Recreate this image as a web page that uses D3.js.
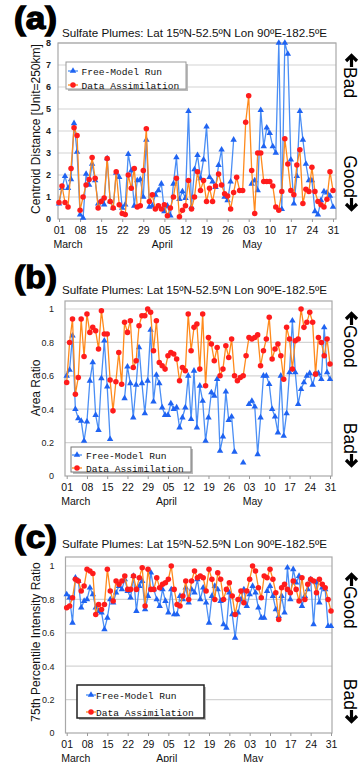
<!DOCTYPE html>
<html><head><meta charset="utf-8">
<script src="https://cdn.jsdelivr.net/npm/d3@7"></script>
<style>
body{margin:0;background:#fff}
svg{display:block;font-family:"Liberation Sans",Arial,sans-serif}
</style></head><body>
<script>
var W = 359, H = 762;

// dates: 1 March .. 31 May, one value per day
var start = new Date(2011, 2, 1);
var days = d3.range(92).map(function(i){ return d3.timeDay.offset(start, i); });
var tickDays = d3.range(0, 92, 7);
var yTicksA = [0,1,2,3,4,5,6,7,8];
var yTicksBC = [0,0.2,0.4,0.6,0.8,1];
var seriesNames = ["Free-Model Run", "Data Assimilation"];
var title = "Sulfate Plumes: Lat 15\u00baN-52.5\u00baN Lon 90\u00baE-182.5\u00baE";

// (a) centroid distance
var distFree = [0.7,1.4,1.95,1.4,1.8,4.35,3.05,0.2,0.05,2.05,
 1.55,2.5,1.75,0.7,0.8,0.65,2.75,0.8,0.5,2.1,
 1.9,0.5,0.65,2.95,2.2,0.6,1.75,1.8,1.0,3.6,
 0.55,0.6,1.1,1.3,1.6,0.35,0.6,0.15,1.6,2.8,
 0.9,1.25,0.95,4.9,0.55,2.25,2.9,1.85,2.7,4.2,
 1.9,1.7,1.45,2.45,3.15,1.0,0.85,1.7,3.6,null,
 null,null,null,null,1.6,1.75,1.3,4.95,3.3,4.15,
 3.9,3.3,3.0,8.0,0.45,8.0,7.5,2.7,0.7,1.95,
 4.9,3.6,2.5,1.75,1.75,0.35,0.2,0.85,1.25,1.2,
 1.05,0.55];
var distDA = [0.75,1.5,0.75,0.55,2.3,4.15,3.8,0.4,1.0,1.55,
 1.8,2.8,1.85,0.5,0.8,0.95,2.75,0.8,0.5,2.15,
 0.65,0.25,0.2,2.0,1.4,2.3,0.55,0.6,2.2,4.1,
 0.8,1.1,0.45,0.6,0.45,0.65,0.15,0.5,1.0,1.85,
 0.1,0.4,0.6,1.75,0.45,1.0,2.15,1.3,1.75,0.8,
 1.4,0.8,1.5,2.05,1.55,1.15,1.05,0.45,1.2,1.9,
 1.3,1.3,4.4,5.6,2.2,0.25,3.0,3.0,1.7,1.7,
 1.7,1.5,0.55,0.4,1.25,3.65,2.5,1.3,1.1,2.45,
 3.15,0.7,1.35,1.25,2.35,1.25,0.8,0.65,0.55,0.9,
 2.15,1.3];

// (b) area ratio
var areaFree = [0.60,0.635,0.84,0.40,0.345,0.33,0.21,0.325,0.57,0.68,
 0.365,0.275,0.585,0.81,0.535,0.22,null,null,null,null,
 0.465,0.655,0.555,0.35,0.545,0.77,0.555,0.375,0.57,0.875,
 0.445,0.605,0.555,0.41,0.365,0.365,0.435,0.40,0.41,0.29,
 0.35,0.41,0.60,0.34,0.63,0.29,0.54,0.45,0.21,0.35,
 0.50,0.48,0.58,0.15,0.236,0.505,0.335,0.355,0.145,null,
 null,0.08,null,0.43,0.45,0.415,0.13,0.35,0.60,0.60,
 0.55,0.40,0.355,0.26,0.60,0.24,0.375,0.62,0.93,0.62,
 0.43,0.52,0.56,0.60,0.615,0.545,0.615,0.615,0.58,0.89,
 0.62,0.58];
var areaDA = [0.56,0.80,0.94,0.49,0.59,0.94,0.715,0.97,0.86,0.89,
 0.87,0.76,0.99,0.85,0.85,0.575,0.39,0.565,0.74,0.55,
 0.92,0.86,0.93,0.65,0.69,0.90,0.96,0.96,1.0,0.98,
 0.75,0.93,0.68,0.66,0.64,0.72,0.74,0.73,0.70,0.57,
 0.65,0.63,0.97,0.75,0.89,0.91,0.64,0.97,0.54,0.83,
 0.79,0.69,0.77,0.60,0.64,0.78,0.71,0.82,0.60,0.57,
 0.59,0.60,0.72,0.83,0.82,0.83,0.845,0.66,0.75,0.82,
 0.95,0.70,0.76,0.79,0.72,0.58,0.89,0.82,0.64,0.81,
 0.82,1.0,0.89,0.92,0.98,0.92,0.61,0.83,0.80,0.72,
 0.82,0.67];

// (c) 75th percentile intensity ratio
var intenFree = [0.83,0.81,0.66,0.93,0.91,0.75,0.79,0.80,0.87,0.83,
 0.75,0.73,0.72,0.62,0.69,0.80,0.78,0.84,0.88,0.86,
 0.92,0.85,0.81,0.94,0.73,0.88,0.91,0.74,0.82,0.96,
 0.86,0.80,0.76,0.86,0.79,0.72,0.86,0.71,0.71,0.82,
 0.80,0.87,0.78,0.86,0.84,0.92,0.80,0.87,0.78,0.66,
 0.82,0.88,0.86,0.79,0.65,0.63,0.84,0.71,0.57,0.72,
 0.80,0.86,0.76,0.83,0.88,0.84,0.75,0.69,0.69,0.85,
 0.88,0.82,0.74,0.70,0.82,0.72,0.99,0.80,0.98,0.90,
 0.94,0.76,0.82,0.86,0.92,0.65,0.90,0.78,0.87,0.86,
 0.64,0.64];
var intenDA = [0.75,0.76,0.81,0.92,0.91,0.85,0.88,0.98,0.97,0.955,
 0.71,0.77,0.74,0.77,0.98,0.85,0.79,0.91,0.89,0.91,
 0.94,0.86,0.86,0.94,0.86,0.93,0.99,0.76,0.98,0.86,
 0.86,0.93,0.87,0.89,0.90,0.92,1.0,0.86,0.77,0.76,
 0.82,0.91,0.80,0.91,0.97,0.93,0.94,0.93,0.85,0.98,
 0.92,0.80,0.96,0.92,0.80,0.86,0.90,0.82,0.71,0.80,
 0.85,0.78,0.85,0.92,1.0,0.97,0.87,0.81,0.94,0.93,
 0.98,0.92,0.84,0.68,0.87,0.89,0.86,0.84,0.91,0.86,
 0.79,0.93,0.80,0.89,0.92,0.91,0.84,0.92,0.89,0.87,
 0.80,0.73];

var blueLine = "#4a8ef5", blueMark = "#1f63f2",
    orangeLine = "#ff8a1c", redMark = "#ff1c1c";

var svg = d3.select("body").append("svg")
    .attr("width", W).attr("height", H);

var panels = [
  { tag:"(a)", tagY:29, titleY:36.5, free:distFree, da:distDA, ticks:yTicksA, ymax:8,
    left:58, right:336, top:43, bottom:219, yTop:43, x0:59, x1:333,
    yLabel:"Centroid Distance [Unit=250km]", yLabelY:129, boldTicks:true,
    tickFmt:d3.format("d"),
    legend:{x:66, y:62, w:120, h:27, rows:[71,85], mx:73, tx:81.5, stroke:"#999", sw:1},
    upText:"Bad", upTip:55, downText:"Good", downTip:210 },
  { tag:"(b)", tagY:288, titleY:294, free:areaFree, da:areaDA, ticks:yTicksBC, ymax:1,
    left:65, right:332, top:301, bottom:476, yTop:309, x0:66.7, x1:330,
    yLabel:"Area Ratio", yLabelY:388, boldTicks:false,
    tickFmt:function(v){ return v === 0 ? "0" : v === 1 ? "1" : d3.format(".1f")(v); },
    legend:{x:71, y:447, w:120, h:25, rows:[455,468], mx:77, tx:86, stroke:"#777", sw:1},
    upText:"Good", upTip:313, downText:"Bad", downTip:466 },
  { tag:"(c)", tagY:548, titleY:548, free:intenFree, da:intenDA, ticks:yTicksBC, ymax:1,
    left:65.5, right:332, top:557, bottom:733, yTop:566, x0:66.7, x1:331,
    yLabel:"75th Percentile Intensity Ratio", yLabelY:642, boldTicks:false,
    tickFmt:function(v){ return v === 0 ? "0" : v === 1 ? "1" : d3.format(".1f")(v); },
    legend:{x:77, y:685, w:127, h:33, rows:[695,712], mx:91, tx:96, stroke:"#222", sw:1.5},
    upText:"Good", upTip:574, downText:"Bad", downTip:722 }
];

function arrow(g, x, tip, dir) {
  // dir = 1 : points up (tip above shaft), dir = -1 : points down
  g.append("path")
    .attr("d", "M" + x + "," + tip + "L" + x + "," + (tip + dir * 12) +
               "M" + (x - 5.5) + "," + (tip + dir * 6) + "L" + x + "," + (tip + dir * 0.5) +
               "L" + (x + 5.5) + "," + (tip + dir * 6))
    .attr("fill", "none").attr("stroke", "#000")
    .attr("stroke-width", 3.2).attr("stroke-linejoin", "miter");
}

panels.forEach(function(p) {
  var g = svg.append("g");
  var x = d3.scaleTime().domain([days[0], days[91]]).range([p.x0, p.x1]);
  var y = d3.scaleLinear().domain([0, p.ymax]).range([p.bottom, p.yTop]);

  // panel tag and title
  g.append("text").attr("x", 14).attr("y", p.tagY)
    .attr("font-size", 31).attr("font-weight", "bold")
    .attr("stroke", "#000").attr("stroke-width", 1.3)
    .attr("textLength", 43).attr("lengthAdjust", "spacingAndGlyphs")
    .text(p.tag);
  g.append("text").attr("x", 62).attr("y", p.titleY)
    .attr("font-size", 11.2).attr("fill", "#111")
    .attr("textLength", 265).attr("lengthAdjust", "spacingAndGlyphs")
    .text(title);

  // grid
  g.append("g").selectAll("line").data(p.ticks.filter(function(v){ return v > 0; }))
    .join("line")
      .attr("x1", p.left).attr("x2", p.right)
      .attr("y1", function(v){ return y(v); }).attr("y2", function(v){ return y(v); })
      .attr("stroke", "#d4d4d4").attr("stroke-width", 1.2);

  // frame
  g.append("rect").attr("x", p.left).attr("y", p.top)
    .attr("width", p.right - p.left).attr("height", p.bottom - p.top)
    .attr("fill", "none").attr("stroke", "#a8a8a8").attr("stroke-width", 1.2);

  // y axis labels
  var ya = g.append("g").attr("transform", "translate(" + p.left + ",0)")
    .call(d3.axisLeft(y).tickValues(p.ticks).tickSize(0)
      .tickPadding(p.boldTicks ? 7 : 11).tickFormat(p.tickFmt));
  ya.select(".domain").remove();
  ya.selectAll("text").attr("font-family", "Liberation Sans, Arial, sans-serif")
    .attr("font-size", 9).attr("font-weight", p.boldTicks ? "bold" : "normal")
    .attr("fill", "#222");

  // x axis
  var xa = g.append("g").attr("transform", "translate(0," + p.bottom + ")")
    .call(d3.axisBottom(x).tickValues(tickDays.map(function(i){ return days[i]; }))
      .tickSize(3).tickFormat(d3.timeFormat("%d")));
  xa.select(".domain").remove();
  xa.selectAll("line").attr("stroke", "#999");
  xa.selectAll("text").attr("font-family", "Liberation Sans, Arial, sans-serif")
    .attr("font-size", 10.5).attr("fill", "#111").attr("y", 7).attr("dy", "0.72em");

  // month labels
  g.append("g").selectAll("text").data(d3.timeMonth.range(days[0], days[91]))
    .join("text")
      .attr("x", function(d, i){ return x(d) - (i === 0 ? 5.5 : 0.5); })
      .attr("y", p.bottom + 28.5)
      .attr("font-size", 10.5).attr("fill", "#111")
      .text(d3.timeFormat("%B"));

  // y axis title
  g.append("text")
    .attr("transform", "translate(40," + p.yLabelY + ") rotate(-90)")
    .attr("text-anchor", "middle").attr("font-size", 12).attr("fill", "#111")
    .text(p.yLabel);

  // series
  var sets = [
    { vals: p.free, line: blueLine, mark: blueMark, sym: d3.symbolTriangle, size: 18 },
    { vals: p.da, line: orangeLine, mark: redMark, sym: d3.symbolCircle, size: 24 }
  ];
  sets.forEach(function(s) {
    var pts = s.vals.map(function(v, i){ return { d: days[i], v: v }; });
    var line = d3.line()
      .defined(function(d){ return d.v != null; })
      .x(function(d){ return x(d.d); })
      .y(function(d){ return y(d.v); });
    g.append("path").datum(pts).attr("d", line)
      .attr("fill", "none").attr("stroke", s.line).attr("stroke-width", 1.3);
    g.append("g").selectAll("path")
      .data(pts.filter(function(d){ return d.v != null; }))
      .join("path")
        .attr("transform", function(d){ return "translate(" + x(d.d) + "," + y(d.v) + ")"; })
        .attr("d", d3.symbol(s.sym, s.size))
        .attr("fill", s.mark);
  });

  // legend
  var L = p.legend;
  var lg = g.append("g");
  lg.append("rect").attr("x", L.x + 2).attr("y", L.y + 2).attr("width", L.w).attr("height", L.h)
    .attr("fill", "#bbb");
  lg.append("rect").attr("x", L.x).attr("y", L.y).attr("width", L.w).attr("height", L.h)
    .attr("fill", "#fff").attr("stroke", L.stroke).attr("stroke-width", L.sw);
  sets.forEach(function(s, i) {
    var cy = L.rows[i];
    lg.append("line").attr("x1", L.mx - 5).attr("x2", L.mx + 5)
      .attr("y1", cy).attr("y2", cy).attr("stroke", s.line).attr("stroke-width", 1.3);
    lg.append("path").attr("transform", "translate(" + L.mx + "," + cy + ")")
      .attr("d", d3.symbol(s.sym, s.size)).attr("fill", s.mark);
    lg.append("text").attr("x", L.tx).attr("y", cy + 3.5)
      .attr("font-family", "Liberation Mono, Courier New, monospace")
      .attr("font-size", 9.6).attr("fill", "#111")
      .text(seriesNames[i]);
  });

  // good / bad side notes
  var ax = 351.5;
  arrow(g, ax, p.upTip, 1);
  g.append("text").attr("transform", "translate(343.5," + (p.upTip + 12) + ") rotate(90)")
    .attr("font-size", 17.5).attr("fill", "#000").text(p.upText);
  arrow(g, ax, p.downTip, -1);
  g.append("text").attr("transform", "translate(343.5," + (p.downTip - 12) + ") rotate(90)")
    .attr("text-anchor", "end").attr("font-size", 17.5).attr("fill", "#000").text(p.downText);
});
</script>
</body></html>
